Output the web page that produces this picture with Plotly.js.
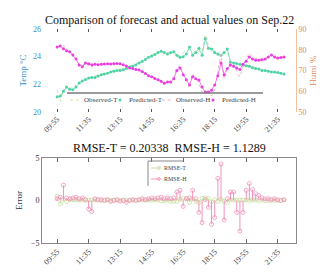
<!DOCTYPE html>
<html><head><meta charset="utf-8">
<script src="https://cdn.plot.ly/plotly-3.0.1.min.js"></script>
<style>html,body{margin:0;padding:0;background:#fff;}#c{width:327px;height:273px;}</style>
</head><body><div id="c"></div>
<script>
const day = "2022-09-22 ";
const times = ["09:55","10:05","10:15","10:25","10:35","10:45","10:55","11:05","11:15","11:25",
"11:35","11:45","11:55","12:05","12:15","12:25","12:35","12:45","12:55","13:05",
"13:15","13:25","13:35","13:45","13:55","14:05","14:15","14:25","14:35","14:45",
"14:55","15:05","15:15","15:25","15:35","15:45","15:55","16:05","16:15","16:25",
"16:35","16:45","16:55","17:05","17:15","17:25","17:35","17:45","17:55","18:05",
"18:15","18:25","18:35","18:45","18:55","19:05","19:15","19:25","19:35","19:45",
"19:55","20:05","20:15","20:25","20:35","20:45","20:55","21:05","21:15","21:25",
"21:35","21:45","21:55"];
const tickLabels = ["09:55","11:35","13:15","14:55","16:35","18:15","19:55","21:35"];

const obsT = [21.6,20.75,21.6,21.7,21.75,21.7,21.9,22.15,22.3,22.4,
22.5,22.55,22.6,22.65,22.7,22.8,22.85,22.9,23.0,23.05,
23.05,23.1,23.2,23.3,23.35,23.45,23.6,23.7,23.85,24.0,
24.1,24.2,24.35,24.35,24.25,24.3,24.2,24.25,24.0,24.1,
24.25,24.45,24.5,24.3,24.2,24.4,24.35,25.6,24.85,24.4,
24.4,24.1,24.25,24.2,24.3,23.7,23.6,23.55,23.5,23.45,
23.4,23.3,23.25,23.2,23.1,23.05,23.0,22.95,22.95,22.9,
22.85,22.8,22.8];
const predT = [21.1,21.15,21.5,21.8,21.65,21.6,21.8,22.1,22.25,22.35,
22.45,22.5,22.5,22.6,22.7,22.75,22.8,22.9,22.95,23.0,
23.0,23.05,23.15,23.25,23.3,23.4,23.55,23.65,23.8,23.95,
24.05,24.15,24.3,24.4,24.3,24.2,24.3,24.35,24.1,23.95,
24.0,24.2,24.7,24.1,24.3,24.6,24.1,25.3,24.6,24.55,
24.3,24.2,24.1,24.3,24.55,23.6,23.55,23.5,23.45,23.4,
23.35,23.3,23.2,23.15,23.1,23.0,23.0,22.95,22.9,22.9,
22.85,22.8,22.75];
const obsH = [81.5,82.2,82.3,79.8,79.2,77.8,75.9,72.8,72.1,73.7,
72.2,71.5,73.2,72.9,73.1,73.1,73.4,73.0,73.2,73.5,
73.1,72.8,72.0,71.2,71.1,70.5,70.3,69.7,68.6,67.7,
67.3,66.4,65.8,65.2,64.0,64.8,64.7,66.3,71.0,72.4,
67.3,65.7,63.3,68.2,66.2,64.0,59.4,59.7,58.8,57.7,
61.0,70.1,77.9,65.7,71.2,73.6,73.0,69.8,66.9,71.6,
75.7,78.5,76.8,75.8,75.6,75.5,75.7,76.7,77.6,76.7,
76.1,76.3,76.6];
const predH = [81.3,81.8,80.5,79.5,79.0,77.5,75.5,72.6,71.8,73.6,
73.2,72.8,73.0,72.8,73.0,73.1,73.3,73.1,73.2,73.4,
73.2,72.8,72.2,71.2,71.0,70.5,70.2,69.5,68.5,67.5,
67.0,66.2,65.5,64.8,63.8,64.5,64.5,66.0,70.0,71.2,
68.0,65.5,63.0,67.0,66.0,65.4,62.0,59.6,59.6,60.5,
63.0,67.5,73.6,68.0,71.0,72.6,72.0,71.2,70.5,73.0,
74.5,76.5,75.5,75.0,75.0,75.2,75.5,76.5,77.5,76.5,
76.0,76.3,76.5];

const x = times.map(t => day + t);
const errT = obsT.map((v,i) => +(v - predT[i]).toFixed(3));
const errH = obsH.map((v,i) => +(v - predH[i]).toFixed(3));

const cPT = '#4fd3a6', cOT = '#d2e6a0', cPH = '#ea3ee0', cOH = '#f5b0cc';
const cET = '#c4df9c', cEH = '#f392bb';
const SERIF = 'Liberation Serif';

function stem(err, color, name){
  return {
    x: x, y: err, type:'scatter', mode:'markers', name:name, showlegend:false,
    xaxis:'x2', yaxis:'y3',
    marker:{symbol:'circle-open', size:4, color:color, line:{width:0.8, color:color}},
    error_y:{type:'data', symmetric:false, visible:true,
      array: err.map(v => v < 0 ? -v : 0),
      arrayminus: err.map(v => v > 0 ? v : 0),
      width:0, thickness:1, color:color}
  };
}

const data = [
  {x:x, y:obsT, type:'scatter', mode:'lines', name:'Observed-T', showlegend:false,
   line:{color:cOT, width:1, dash:'dot'}, xaxis:'x', yaxis:'y'},
  {x:x, y:predT, type:'scatter', mode:'lines+markers', name:'Predicted-T', showlegend:false,
   line:{color:cPT, width:0.7}, marker:{color:cPT, size:3}, xaxis:'x', yaxis:'y'},
  {x:x, y:obsH, type:'scatter', mode:'lines', name:'Observed-H', showlegend:false,
   line:{color:cOH, width:1, dash:'dot'}, xaxis:'x', yaxis:'y2'},
  {x:x, y:predH, type:'scatter', mode:'lines+markers', name:'Predicted-H', showlegend:false,
   line:{color:cPH, width:0.7}, marker:{color:cPH, size:3}, xaxis:'x', yaxis:'y2'},
  stem(errT, cET, 'RMSE-T'),
  stem(errH, cEH, 'RMSE-H')
];

const px = v => v/327, py = v => 1 - v/273;
const dom = [px(42), px(296)];
const xr = [day + '09:07', day + '22:33'];
const tv = tickLabels.map(t => day + t);
const tickFont = {family:SERIF, size:8, color:'#444'};

const layout = {
  width:327, height:273, margin:{l:0,r:0,t:0,b:0, autoexpand:false},
  font:{family:SERIF},
  paper_bgcolor:'#fff', plot_bgcolor:'rgba(0,0,0,0)',
  showlegend:false,
  xaxis:{domain:dom, anchor:'y', type:'date', range:xr, tickvals:tv, ticktext:tickLabels,
    tickangle:-45, ticks:'inside', ticklen:3, tickcolor:'#555', mirror:'ticks', automargin:false,
    showline:false, showgrid:false, zeroline:false, tickfont:tickFont},
  yaxis:{domain:[py(112), py(29)], anchor:'x', range:[20,26], dtick:2, showgrid:false, zeroline:false, automargin:false,
    showline:false, ticks:'', tickfont:{family:SERIF, size:8, color:'#3a8fc8'},
    title:{text:'Temp °C', font:{family:SERIF, size:9, color:'#3a8fc8'}, standoff:4}},
  yaxis2:{overlaying:'y', side:'right', anchor:'x', range:[50,90], dtick:10, showgrid:false, zeroline:false, automargin:false,
    showline:true, linecolor:'#f2bfa0', linewidth:1, ticks:'', tickfont:{family:SERIF, size:8, color:'#e0895a'},
    title:{text:'Humi %', font:{family:SERIF, size:9, color:'#e0895a'}, standoff:4}},
  xaxis2:{domain:dom, anchor:'y3', type:'date', range:xr, tickvals:tv, ticktext:tickLabels, automargin:false,
    tickangle:-45, ticks:'inside', ticklen:4, tickcolor:'#666', mirror:'allticks',
    showline:true, linecolor:'#8a8a8a', linewidth:1, showgrid:false, zeroline:false, tickfont:tickFont},
  yaxis3:{domain:[py(243), py(158)], anchor:'x2', range:[-5,5], dtick:5, showgrid:false, zeroline:false, automargin:false,
    showline:true, mirror:true, linecolor:'#8a8a8a', linewidth:1, ticks:'', tickfont:{family:SERIF, size:8, color:'#333'},
    title:{text:'Error', font:{family:SERIF, size:9, color:'#333'}, standoff:6}},
  annotations:[
    {xref:'paper', yref:'paper', x:px(170), y:py(20), text:'Comparison of forecast and actual values on Sep.22',
     showarrow:false, font:{family:SERIF, size:12, color:'#111'}, xanchor:'center', yanchor:'middle'},
    {xref:'paper', yref:'paper', x:px(169), y:py(148), text:'RMSE-T = 0.20338  RMSE-H = 1.1289',
     showarrow:false, font:{family:SERIF, size:12, color:'#111'}, xanchor:'center', yanchor:'middle'},
    {xref:'paper', yref:'paper', x:px(82), y:py(100), text:'Observed-T', showarrow:false, xanchor:'left', yanchor:'middle',
     font:{family:SERIF, size:7, color:'#444'}},
    {xref:'paper', yref:'paper', x:px(127), y:py(100), text:'Predicted-T', showarrow:false, xanchor:'left', yanchor:'middle',
     font:{family:SERIF, size:7, color:'#444'}},
    {xref:'paper', yref:'paper', x:px(174), y:py(100), text:'Observed-H', showarrow:false, xanchor:'left', yanchor:'middle',
     font:{family:SERIF, size:7, color:'#444'}},
    {xref:'paper', yref:'paper', x:px(220), y:py(100), text:'Predicted-H', showarrow:false, xanchor:'left', yanchor:'middle',
     font:{family:SERIF, size:7, color:'#444'}},
    {xref:'paper', yref:'paper', x:px(162), y:py(168), text:'RMSE-T', showarrow:false, xanchor:'left', yanchor:'middle',
     font:{family:SERIF, size:6, color:'#444'}},
    {xref:'paper', yref:'paper', x:px(162), y:py(179), text:'RMSE-H', showarrow:false, xanchor:'left', yanchor:'middle',
     font:{family:SERIF, size:6, color:'#444'}}
  ],
  shapes:[
    {type:'line', xref:'paper', yref:'paper', x0:px(67), x1:px(263), y0:py(93), y1:py(93), line:{color:'#7a7a7a', width:1.5}},
    {type:'line', xref:'paper', yref:'paper', x0:px(70), x1:px(80), y0:py(100), y1:py(100), line:{color:cOT, width:1, dash:'dot'}},
    {type:'circle', xref:'paper', yref:'paper', x0:px(118.5), x1:px(121.5), y0:py(98.5), y1:py(101.5), fillcolor:cPT, line:{width:0}},
    {type:'line', xref:'paper', yref:'paper', x0:px(162), x1:px(172), y0:py(100), y1:py(100), line:{color:cOH, width:1, dash:'dot'}},
    {type:'circle', xref:'paper', yref:'paper', x0:px(211.5), x1:px(214.5), y0:py(98.5), y1:py(101.5), fillcolor:cPH, line:{width:0}},
    {type:'line', xref:'paper', yref:'paper', x0:px(148), x1:px(183), y0:py(161), y1:py(161), line:{color:'#888', width:1}},
    {type:'line', xref:'paper', yref:'paper', x0:px(148), x1:px(148), y0:py(161), y1:py(186), line:{color:'#888', width:1}},
    {type:'line', xref:'paper', yref:'paper', x0:px(151), x1:px(160), y0:py(168), y1:py(168), line:{color:cET, width:1}},
    {type:'circle', xref:'paper', yref:'paper', x0:px(157.5), x1:px(160.5), y0:py(166.5), y1:py(169.5), line:{color:cET, width:0.8}},
    {type:'line', xref:'paper', yref:'paper', x0:px(151), x1:px(160), y0:py(179), y1:py(179), line:{color:cEH, width:1}},
    {type:'circle', xref:'paper', yref:'paper', x0:px(157.5), x1:px(160.5), y0:py(177.5), y1:py(180.5), line:{color:cEH, width:0.8}}
  ]
};

Plotly.newPlot('c', data, layout, {staticPlot:true, displayModeBar:false});
</script>
</body></html>
